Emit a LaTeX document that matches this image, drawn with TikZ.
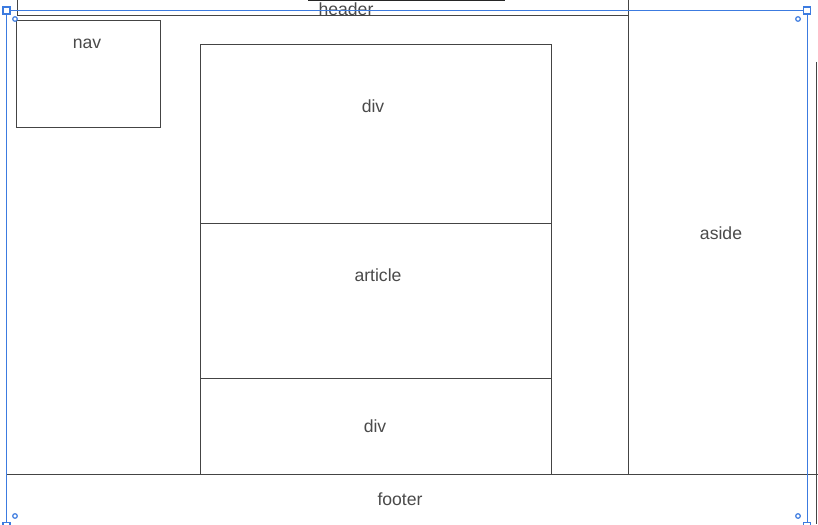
\documentclass[tikz,border=0pt]{standalone}
\usepackage{fontspec}
\setmainfont{Liberation Sans}
\definecolor{edge}{HTML}{444444}
\definecolor{ink}{HTML}{4A4A4A}
\definecolor{sel}{HTML}{3C7BE0}
\begin{document}
\begin{tikzpicture}[x=1pt,y=-1pt,
  frame/.style={draw=edge,line width=1pt},
  lbl/.style={text=ink,font=\fontsize{17.6}{20}\selectfont,inner sep=0pt,anchor=center},
  selline/.style={draw=sel,line width=1pt},
  handle/.style={draw=sel,fill=white,line width=1.2pt},
  pivot/.style={draw=sel,fill=white,line width=1.2pt}]
\useasboundingbox (0,0) rectangle (818,524);

% header strip
\draw[draw=black!85,line width=2pt] (308,0.5) -- (505,0.5);
\draw[frame] (17,0) -- (17,16) -- (628,16);
\node[lbl] (header) at (346,9) {header};

% aside column
\draw[frame] (628,0) -- (628,474);
\draw[frame] (816.5,62) -- (816.5,524);
\node[lbl] (aside) at (721,233) {aside};

% nav
\draw[frame] (16.5,20.5) rectangle (160.5,127.5);
\node[lbl] (nav) at (87,44) {nav};

% central column
\draw[frame] (200.5,44.5) rectangle (551.5,223.5);
\draw[frame] (200.5,223.5) rectangle (551.5,378.5);
\draw[frame] (200.5,378.5) -- (200.5,474) (551.5,378.5) -- (551.5,474);
\node[lbl] (divtop) at (373,106) {div};
\node[lbl] (article) at (378,275) {article};
\node[lbl] (divbot) at (375,426) {div};

% footer
\draw[frame] (7,474.5) -- (818,474.5);
\node[lbl] (footer) at (400,499) {footer};

% selection outline with handles
\draw[selline] (6.5,10.5) rectangle (807,526);
\foreach \p in {(6.5,10.5),(807,10.5),(6.5,526),(807,526)}
  \draw[handle] \p ++(-3.5,-3.5) rectangle ++(7,7);
\foreach \p in {(15,19),(798,19),(15,516),(798,516)}
  \draw[pivot] \p circle (2.3);
\end{tikzpicture}
\end{document}
